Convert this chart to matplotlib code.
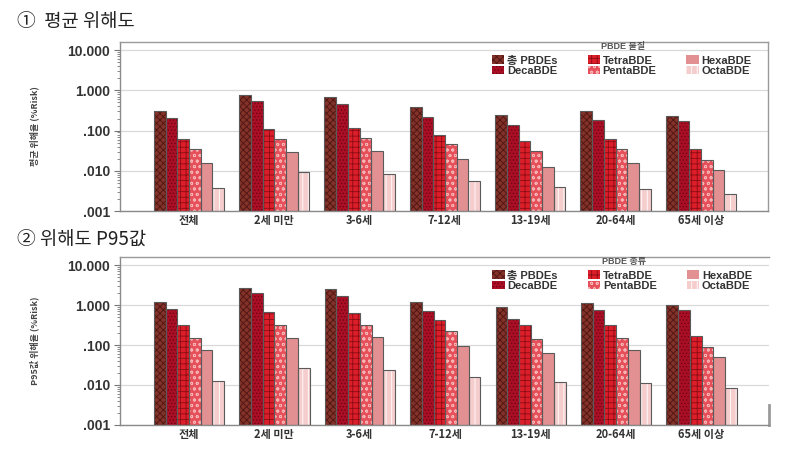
"""
pbde_risk_chart.py

연령군별 PBDE 위해도 (평균 / P95) 막대그래프
"""

import numpy as np
import matplotlib
matplotlib.use("Agg")
import matplotlib.pyplot as plt
from matplotlib.ticker import FixedLocator, LogLocator, NullFormatter

matplotlib.rcParams['font.family'] = ['Noto Sans CJK KR', 'DejaVu Sans']
matplotlib.rcParams['axes.unicode_minus'] = False
matplotlib.rcParams['hatch.linewidth'] = 0.6

# ==================== 데이터 ====================
age_groups = ['전체', '2세 미만', '3-6세', '7-12세', '13-19세', '20-64세', '65세 이상']
substances = ['총 PBDEs', 'DecaBDE', 'TetraBDE', 'PentaBDE', 'HexaBDE', 'OctaBDE']

# 평균 위해도 (%Risk)
mean_total = [0.316, 0.75, 0.70, 0.376, 0.246, 0.30, 0.237]
mean_deca = [0.207, 0.55, 0.47, 0.224, 0.139, 0.185, 0.175]
mean_tetra = [0.062, 0.108, 0.119, 0.079, 0.056, 0.063, 0.034]
mean_penta = [0.034, 0.062, 0.067, 0.046, 0.032, 0.034, 0.0188]
mean_hexa = [0.016, 0.030, 0.0316, 0.020, 0.0126, 0.0158, 0.0102]
mean_octa = [0.0038, 0.0091, 0.0084, 0.0055, 0.0039, 0.0035, 0.0026]

# P95 위해도 (%Risk)
p95_total = [1.20, 2.75, 2.55, 1.22, 0.92, 1.11, 0.99]
p95_deca = [0.82, 1.98, 1.73, 0.71, 0.45, 0.76, 0.77]
p95_tetra = [0.31, 0.69, 0.64, 0.42, 0.31, 0.31, 0.17]
p95_penta = [0.15, 0.32, 0.32, 0.22, 0.144, 0.147, 0.091]
p95_hexa = [0.073, 0.147, 0.16, 0.094, 0.064, 0.073, 0.051]
p95_octa = [0.0127, 0.026, 0.0236, 0.0157, 0.012, 0.0111, 0.0085]

ytick_values = [0.001, 0.01, 0.1, 1, 10]
ytick_labels = ['.001', '.010', '.100', '1.000', '10.000']

# ==================== 스타일 ====================
FACE_COLORS = ['#823229', '#ab0f26', '#dc1e2a', '#e6505a', '#e39092', '#f5cdcd']
HATCH_COLORS = ['#4e1512', '#6e0515', '#8c0c14', '#f6b4b4', '#e39092', '#ffffff']
HATCHES = ['xxxxx', '.....', '+++', 'ooo', '', '|||']
EDGE = '#5a5a5a'
GRID = '#d9d9d9'
LATIN_FONT = ['Liberation Sans', 'Noto Sans CJK KR', 'DejaVu Sans']
BASE = 0.001  # 로그축 바닥


def draw_panel(ax, series, ylabel, legend_title, right_stub=False):
    """그룹 막대 + 로그축 패널 하나 그리기"""
    x = np.arange(len(age_groups))
    n = len(series)
    width = 0.137
    for i, vals in enumerate(series):
        pos = x + (i - (n - 1) / 2) * width
        heights = np.array(vals) - BASE
        # 해치 색을 테두리와 다르게 하기 위해 두 번 그림
        ax.bar(pos, heights, width, bottom=BASE, color=FACE_COLORS[i],
               edgecolor=HATCH_COLORS[i], hatch=HATCHES[i], linewidth=0, zorder=2)
        ax.bar(pos, heights, width, bottom=BASE, facecolor='none',
               edgecolor=EDGE, linewidth=0.8, zorder=3)

    ax.set_yscale('log')
    ax.set_ylim(BASE, 16)
    ax.set_xlim(-0.81, 6.79)
    ax.yaxis.set_major_locator(FixedLocator(ytick_values))
    ax.set_yticklabels(ytick_labels, fontsize=10, fontweight='bold',
                       family=LATIN_FONT, color='#333333')
    ax.yaxis.set_minor_locator(LogLocator(base=10, subs=np.arange(2, 10)))
    ax.yaxis.set_minor_formatter(NullFormatter())
    ax.tick_params(axis='y', which='major', length=4, width=0.8, color='#777777', pad=3)
    ax.tick_params(axis='y', which='minor', length=2.5, width=0.6, color='#777777')
    ax.set_xticks(x)
    ax.set_xticklabels(age_groups, fontsize=8, fontweight='bold', color='#333333')
    ax.tick_params(axis='x', length=0, pad=2)
    ax.grid(axis='y', which='major', color=GRID, linewidth=0.9, zorder=0)
    ax.set_axisbelow(True)
    ax.set_ylabel(ylabel, fontsize=6.5, fontweight='bold', color='#444444', labelpad=20)

    for side in ['top', 'left', 'bottom', 'right']:
        ax.spines[side].set_color('#9a9a9a')
        ax.spines[side].set_linewidth(1.0)
    ax.spines['left'].set_color('#8a8a8a')
    ax.spines['bottom'].set_color('#8a8a8a')
    if right_stub:
        # 원본 이미지 오른쪽 아래에 잘린 막대 일부
        ax.spines['right'].set_bounds(BASE, 0.0032)
        ax.spines['right'].set_linewidth(2.0)

    # 범례 제목은 따로 텍스트로
    ax.text(0.776, 0.974, legend_title, transform=ax.transAxes, ha='center', va='center',
            fontsize=6.5, fontweight='bold', color='#555555', family=LATIN_FONT)
    handles = [plt.Rectangle((0, 0), 1, 1, facecolor=FACE_COLORS[i],
                             edgecolor=HATCH_COLORS[i], hatch=HATCHES[i], linewidth=0)
               for i in range(n)]
    leg = ax.legend(handles, substances, ncol=3, frameon=False,
                    loc='upper left', bbox_to_anchor=(0.574, 0.92),
                    prop={'family': LATIN_FONT, 'size': 8, 'weight': 'bold'},
                    handlelength=1.1, handleheight=0.8,
                    handletextpad=0.25, columnspacing=2.7, labelspacing=0.0,
                    borderpad=0.0, borderaxespad=0.0)
    for t in leg.get_texts():
        t.set_color('#333333')


def main():
    fig = plt.figure(figsize=(7.88, 4.51), dpi=100)

    ax1 = fig.add_axes([0.152, 0.532, 0.823, 0.375])
    draw_panel(ax1,
               [mean_total, mean_deca, mean_tetra, mean_penta, mean_hexa, mean_octa],
               '평균 위해율 (%Risk)', 'PBDE 물질')

    ax2 = fig.add_axes([0.152, 0.058, 0.824, 0.372])
    draw_panel(ax2,
               [p95_total, p95_deca, p95_tetra, p95_penta, p95_hexa, p95_octa],
               'P95값 위해율 (%Risk)', 'PBDE 종류', right_stub=True)

    fig.text(0.022, 0.952, '①  평균 위해도', fontsize=13.5, va='center', color='#222222')
    fig.text(0.022, 0.468, '② 위해도 P95값', fontsize=13.5, va='center', color='#222222')

    fig.savefig('out.png', dpi=100)
    plt.close(fig)


if __name__ == "__main__":
    main()
